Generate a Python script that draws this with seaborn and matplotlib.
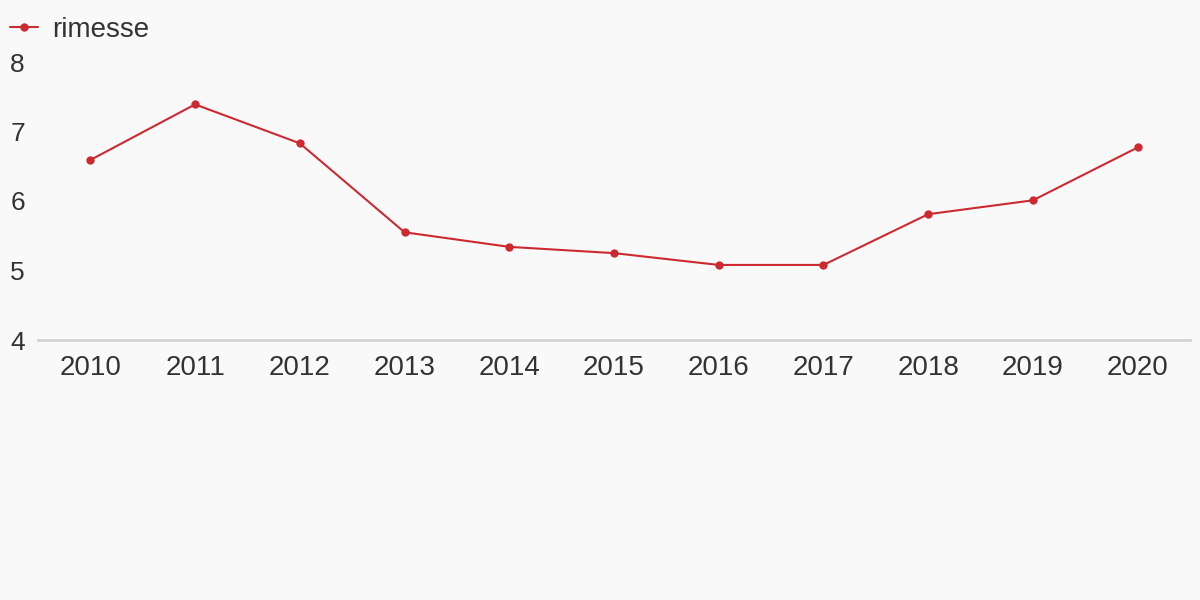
import matplotlib
matplotlib.use('Agg')
import matplotlib.pyplot as plt
import seaborn as sns
import pandas as pd

years = [2010, 2011, 2012, 2013, 2014, 2015, 2016, 2017, 2018, 2019, 2020]
rimesse = [6.59, 7.39, 6.83, 5.55, 5.34, 5.25, 5.08, 5.08, 5.81, 6.01, 6.77]
y_ticks = [4, 5, 6, 7, 8]

df = pd.DataFrame({'anno': years, 'rimesse': rimesse})

sns.set_style('white')
plt.rcParams['font.family'] = ['Liberation Sans', 'DejaVu Sans']

bg = '#f9f9f9'
red = '#cc2a30'
txt = '#333333'

fig = plt.figure(figsize=(12, 6), dpi=100, facecolor=bg)
ax = fig.add_axes([38 / 1200, 1 - 340 / 600, (1190 - 38) / 1200, (340 - 62) / 600])
ax.set_facecolor(bg)

sns.lineplot(data=df, x='anno', y='rimesse', ax=ax, color=red, linewidth=1.5,
             marker='o', markersize=6, markeredgewidth=0, label='rimesse')

ax.set_xlim(years[0] - 0.5, years[-1] + 0.5)
ax.set_ylim(4, 8)
ax.set_xticks(years)
ax.set_xticklabels([str(y) for y in years])
ax.set_yticks(y_ticks)
ax.set_yticklabels([str(t) for t in y_ticks], ha='left')
ax.tick_params(axis='y', length=0, pad=20, labelsize=19, labelcolor=txt)
ax.tick_params(axis='x', length=0, pad=11, labelsize=20, labelcolor=txt)
ax.set_xlabel('')
ax.set_ylabel('')

for s in ['top', 'right', 'left']:
    ax.spines[s].set_visible(False)
ax.spines['bottom'].set_color('#d3d3d3')
ax.spines['bottom'].set_linewidth(2)
ax.grid(False)

ax.get_legend().remove()
h, l = ax.get_legend_handles_labels()
fig.legend(h, l, loc='center left', bbox_to_anchor=(10 / 1200, 1 - 30 / 600),
           frameon=False, fontsize=20, labelcolor=txt, handlelength=1.0,
           handletextpad=0.5, borderpad=0, borderaxespad=0)

plt.savefig('out.png', dpi=100, facecolor=bg)
